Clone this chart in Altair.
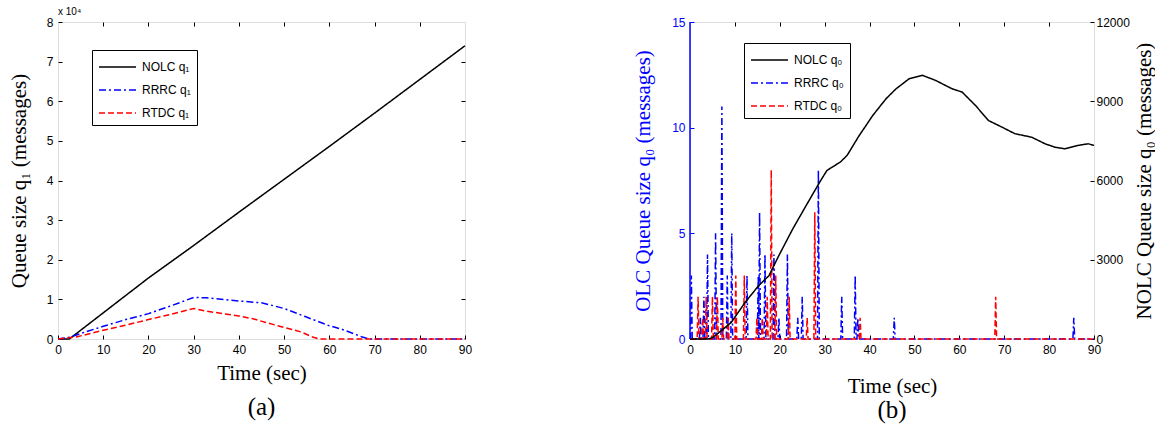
import altair as alt
import pandas as pd

# ---------------- Panel (a): queue q1 over time ----------------
nolc_q1_time = [0, 2.5, 10, 20, 30, 40, 50, 60, 70, 80, 90]
nolc_q1_size = [0, 0, 6600, 15400, 23600, 32000, 40300, 48600, 57000, 65500, 74000]

rrrc_q1_time = [0, 2.8, 6.1, 10, 15, 20, 25.3, 30, 32.8, 40, 45.2, 50, 54.8, 59.6, 62.9, 67.3, 68.8, 90]
rrrc_q1_size = [0, 500, 1800, 3200, 4900, 6400, 8500, 10500, 10400, 9600, 9100, 7700, 5600, 3500, 2400, 500, 0, 0]

rtdc_q1_time = [0, 4, 10, 15, 20, 24.9, 30, 32.4, 40, 43.1, 50, 53.7, 56.3, 57.8, 90]
rtdc_q1_size = [0, 500, 2200, 3500, 4900, 6200, 7700, 7100, 5800, 5100, 2900, 1800, 500, 0, 0]

# ---------------- Panel (b): queue q0 over time ----------------
nolc_q0_time = [0, 4, 5, 7, 9.2, 12.3, 15.3, 17.6, 19.8, 22.9, 25.9, 28.9, 30.5, 33.5, 35,
                37.5, 40.7, 43.7, 45.9, 48.8, 51.8, 54.7, 58.4, 60.6, 63.6, 66.5, 69.5,
                72.4, 76.1, 79.1, 81.3, 83.5, 86.5, 88.7, 90]
nolc_q0_size = [0, 0, 50, 320, 630, 1390, 2020, 2400, 3160, 4170, 5060, 5940, 6380, 6700, 6950,
                7650, 8460, 9100, 9470, 9850, 9980, 9790, 9470, 9350, 8840, 8270, 8020,
                7770, 7640, 7390, 7260, 7200, 7330, 7390, 7330]

# bursts of the controlled queues: burst time (s) and peak size (messages)
rrrc_q0_peak_time = [0.3, 2.3, 3.1, 3.9, 5.7, 7.1, 8.3, 9.3, 12.7, 15.2, 15.5, 16.7, 18.7,
                     19.8, 21.7, 24.0, 25.0, 28.6, 33.8, 36.8, 37.4, 45.5, 85.5]
rrrc_q0_peak_size = [3, 1, 2, 4, 5, 11, 3, 5, 3, 3, 6, 4, 4,
                     1, 4, 1, 2, 8, 2, 3, 1, 1, 1]

rtdc_q0_peak_time = [1.8, 2.8, 3.6, 5.0, 6.1, 7.3, 8.5, 10.2, 12.1, 14.9, 16.1, 17.2, 18.1,
                     19.1, 22.1, 26.1, 27.8, 37.9, 68.1]
rtdc_q0_peak_size = [2, 1, 2, 2, 2, 1, 1, 3, 3, 1, 1, 2, 8,
                     3, 2, 1, 6, 1, 2]

SERIES_A = ["NOLC q\u2081", "RRRC q\u2081", "RTDC q\u2081"]
SERIES_B = ["NOLC q\u2080", "RRRC q\u2080", "RTDC q\u2080"]
COLORS = ["#000000", "#0000ff", "#ff0000"]
DASHES = [[1, 0], [7, 3, 2, 3], [6, 3]]

SANS = "Liberation Sans"
SERIF = "Liberation Serif"
TICKS_X = list(range(0, 91, 10))


def series_frame(times, sizes, name):
    return pd.DataFrame({"t": times, "v": sizes, "series": name, "k": range(len(times))})


def burst_frame(times, sizes, name, half=0.2):
    pts = [(0.0, 0.0)]
    for t, h in zip(times, sizes):
        pts += [(max(0.0, t - half), 0.0), (t, h), (t + half, 0.0)]
    pts.append((90.0, 0.0))
    return pd.DataFrame({"t": [p[0] for p in pts], "v": [p[1] for p in pts],
                         "series": name, "k": range(len(pts))})


df_a = pd.concat([
    series_frame(nolc_q1_time, nolc_q1_size, SERIES_A[0]),
    series_frame(rrrc_q1_time, rrrc_q1_size, SERIES_A[1]),
    series_frame(rtdc_q1_time, rtdc_q1_size, SERIES_A[2]),
], ignore_index=True)

df_b_nolc = series_frame(nolc_q0_time, nolc_q0_size, SERIES_B[0])
df_b_bursts = pd.concat([
    burst_frame(rrrc_q0_peak_time, rrrc_q0_peak_size, SERIES_B[1]),
    burst_frame(rtdc_q0_peak_time, rtdc_q0_peak_size, SERIES_B[2]),
], ignore_index=True)

W_A, W_B, H = 407, 404, 317


def legend(x, y):
    # long horizontal sample line, drawn right of the symbol centre
    return alt.Legend(orient="none", legendX=x, legendY=y, title=None,
                      strokeColor="black", fillColor="white", padding=6,
                      symbolType="M-1,0H2.7", symbolSize=400, symbolStrokeWidth=1.5,
                      labelFont=SANS, labelFontSize=12, labelColor="black",
                      labelOffset=22, rowPadding=6)


def x_bottom(title_pad):
    return alt.Axis(orient="bottom", values=TICKS_X, format="d", offset=-4, tickSize=4,
                    domain=False, grid=False, labelFlush=False, labelPadding=5,
                    labelFont=SANS, labelFontSize=12, labelColor="black", tickColor="black",
                    title="Time (sec)", titleFont=SERIF, titleFontSize=21,
                    titleFontWeight="normal", titleColor="black", titlePadding=title_pad)


x_top = alt.Axis(orient="top", values=TICKS_X[1:-1], labels=False, title=None, offset=-4,
                 tickSize=4, domain=False, grid=False, tickColor="black")

x_scale = alt.Scale(domain=[0, 90], nice=False, zero=False)

# ---------------- chart (a) ----------------
color_a = alt.Color("series:N", scale=alt.Scale(domain=SERIES_A, range=COLORS), legend=legend(34, 28))
dash_a = alt.StrokeDash("series:N", scale=alt.Scale(domain=SERIES_A, range=DASHES), legend=legend(34, 28))
y_scale_a = alt.Scale(domain=[0, 80000], nice=False)

lines_a = alt.Chart(df_a).mark_line(strokeWidth=1.5).encode(
    x=alt.X("t:Q", scale=x_scale, axis=x_bottom(7)),
    y=alt.Y("v:Q", scale=y_scale_a, axis=alt.Axis(
        orient="left", values=list(range(0, 80001, 10000)),
        labelExpr="format(datum.value / 10000, 'd')", offset=-4, tickSize=4,
        domain=False, grid=False, labelPadding=5, labelFont=SANS, labelFontSize=12,
        labelColor="black", tickColor="black", title="Queue size q\u2081 (messages)",
        titleFont=SERIF, titleFontSize=21, titleFontWeight="normal", titleColor="black",
        titlePadding=17)),
    color=color_a, strokeDash=dash_a, order="k:Q",
)

frame_a = alt.Chart(df_a).mark_line(opacity=0).encode(
    x=alt.X("t:Q", scale=x_scale, axis=x_top),
    y=alt.Y("v:Q", scale=y_scale_a, axis=alt.Axis(
        orient="right", values=list(range(10000, 70001, 10000)), labels=False, title=None,
        offset=-4, tickSize=4, domain=False, grid=False, tickColor="black")),
)

exponent_a = alt.Chart(pd.DataFrame({"s": ["x 10\u2074"]})).mark_text(
    align="left", baseline="bottom", font=SANS, fontSize=10, color="black"
).encode(x=alt.value(0), y=alt.value(-5), text="s:N")

chart_a = alt.layer(lines_a, frame_a, exponent_a).resolve_scale(
    x="independent", y="independent"
).properties(
    width=W_A, height=H,
    title=alt.TitleParams("(a)", orient="bottom", font=SERIF, fontSize=25,
                          fontWeight="normal", color="black", offset=12),
)

# ---------------- chart (b) ----------------
color_b = alt.Color("series:N", scale=alt.Scale(domain=SERIES_B, range=COLORS), legend=legend(54, 21))
dash_b = alt.StrokeDash("series:N", scale=alt.Scale(domain=SERIES_B, range=DASHES), legend=legend(54, 21))

bursts_b = alt.Chart(df_b_bursts).mark_line(strokeWidth=1.5).encode(
    x=alt.X("t:Q", scale=x_scale, axis=x_bottom(20)),
    y=alt.Y("v:Q", scale=alt.Scale(domain=[0, 15], nice=False), axis=alt.Axis(
        orient="left", values=[0, 5, 10, 15], offset=-4, tickSize=4, domain=False,
        grid=False, labelPadding=5, labelFont=SANS, labelFontSize=12, labelColor="#0000ff",
        tickColor="#0000ff", title="OLC Queue size q\u2080 (messages)", titleFont=SERIF,
        titleFontSize=21, titleFontWeight="normal", titleColor="#0000ff", titlePadding=18)),
    color=color_b, strokeDash=dash_b, order="k:Q",
)

nolc_b = alt.Chart(df_b_nolc).mark_line(strokeWidth=1.5).encode(
    x=alt.X("t:Q", scale=x_scale, axis=x_top),
    y=alt.Y("v:Q", scale=alt.Scale(domain=[0, 12000], nice=False), axis=alt.Axis(
        orient="right", values=list(range(0, 12001, 3000)), format="d", offset=-4,
        tickSize=4, domain=False, grid=False, labelPadding=2, labelFont=SANS,
        labelFontSize=12, labelColor="black", tickColor="black",
        title="NOLC Queue size q\u2080 (messages)", titleFont=SERIF, titleFontSize=21,
        titleFontWeight="normal", titleColor="black", titleAngle=270,
        titleBaseline="top", titlePadding=4)),
    color=color_b, strokeDash=dash_b, order="k:Q",
)

spine_b = alt.Chart(pd.DataFrame({"s": [0]})).mark_rule(color="#0000ff", strokeWidth=1.5).encode(
    x=alt.value(0), y=alt.value(0), y2=alt.value(H)
)

chart_b = alt.layer(bursts_b, nolc_b, spine_b).resolve_scale(
    x="independent", y="independent"
).properties(
    width=W_B, height=H,
    title=alt.TitleParams("(b)", orient="bottom", font=SERIF, fontSize=25,
                          fontWeight="normal", color="black", offset=2),
)

chart = alt.hconcat(chart_a, chart_b, spacing=159).resolve_scale(
    color="independent", strokeDash="independent"
).properties(
    padding={"left": 7, "top": 6, "right": 0, "bottom": 0}
).configure_view(stroke="black", strokeWidth=1).configure(background="white")

chart.save("out.html", embed_options={"renderer": "svg", "actions": False})
